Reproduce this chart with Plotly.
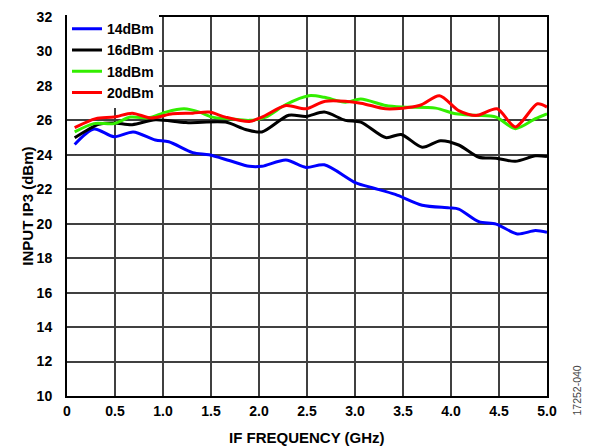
import plotly.graph_objects as go

# IF frequency (GHz), one list per curve
freq_14 = [0.08, 0.28, 0.49, 0.69, 0.92, 1.06, 1.31, 1.48, 1.69, 1.90, 2.03, 2.28, 2.49, 2.68,
           3.01, 3.18, 3.42, 3.70, 3.98, 4.08, 4.29, 4.47, 4.69, 4.88, 5.0]
ip3_14 = [24.6, 25.5, 25.05, 25.33, 24.86, 24.76, 24.13, 24.0, 23.67, 23.33, 23.33, 23.7, 23.27, 23.42,
          22.37, 22.09, 21.7, 21.07, 20.92, 20.85, 20.12, 19.98, 19.41, 19.6, 19.5]

freq_16 = [0.08, 0.33, 0.49, 0.68, 0.92, 1.24, 1.65, 1.86, 2.03, 2.31, 2.49, 2.68, 2.90, 3.06,
           3.32, 3.48, 3.70, 3.89, 4.08, 4.29, 4.47, 4.67, 4.88, 5.0]
ip3_16 = [24.99, 25.77, 25.85, 25.75, 26.04, 25.87, 25.9, 25.47, 25.33, 26.3, 26.23, 26.48, 26.0, 25.9,
          25.0, 25.18, 24.44, 24.82, 24.57, 23.86, 23.8, 23.62, 23.94, 23.9]

freq_18 = [0.08, 0.28, 0.49, 0.66, 0.85, 1.03, 1.22, 1.38, 1.51, 1.69, 1.90, 2.07, 2.28, 2.52,
           2.68, 2.90, 3.06, 3.32, 3.49, 3.84, 4.05, 4.26, 4.47, 4.67, 4.88, 5.0]
ip3_18 = [25.33, 25.81, 25.81, 26.19, 26.15, 26.48, 26.67, 26.48, 26.19, 26.1, 26.0, 26.19, 26.92, 27.43,
          27.34, 27.05, 27.24, 26.86, 26.77, 26.71, 26.38, 26.29, 26.19, 25.52, 26.1, 26.38]

freq_20 = [0.08, 0.30, 0.49, 0.68, 0.87, 1.10, 1.31, 1.48, 1.65, 1.90, 2.03, 2.28, 2.49, 2.69,
           3.06, 3.32, 3.67, 3.88, 4.08, 4.27, 4.48, 4.67, 4.90, 5.0]
ip3_20 = [25.58, 26.1, 26.19, 26.42, 26.14, 26.38, 26.42, 26.48, 26.19, 25.94, 26.19, 26.86, 26.67, 27.11,
          27.0, 26.67, 26.86, 27.43, 26.57, 26.29, 26.67, 25.62, 26.96, 26.77]

x_ticks = [0, 0.5, 1.0, 1.5, 2.0, 2.5, 3.0, 3.5, 4.0, 4.5, 5.0]
x_labels = ["0", "0.5", "1.0", "1.5", "2.0", "2.5", "3.0", "3.5", "4.0", "4.5", "5.0"]
y_ticks = list(range(10, 33, 2))

font = "Arial, Liberation Sans, sans-serif"
bold14 = dict(family=font, size=14, color="black", weight="bold")
bold15 = dict(family=font, size=15, color="black", weight="bold")

series = [
    ("14dBm", freq_14, ip3_14, "#0000ff"),
    ("16dBm", freq_16, ip3_16, "#000000"),
    ("18dBm", freq_18, ip3_18, "#33ee00"),
    ("20dBm", freq_20, ip3_20, "#ff0000"),
]

fig = go.Figure()
for name, xs, ys, color in series:
    fig.add_trace(go.Scatter(x=xs, y=ys, name=name, mode="lines",
                             line=dict(color=color, width=3, shape="spline", smoothing=0.8)))

axis_common = dict(showgrid=True, gridcolor="#404040", gridwidth=1.5,
                   showline=True, linecolor="black", linewidth=2, mirror=True,
                   ticks="", zeroline=False, automargin=False,
                   tickfont=bold14)

fig.update_xaxes(range=[0, 5], tickvals=x_ticks, ticktext=x_labels,
                 ticklabelstandoff=1, **axis_common)
fig.update_yaxes(range=[10, 32], tickvals=y_ticks, ticklabelstandoff=10, **axis_common)

# the page body adds an 8 px offset, so the figure is 8 px smaller each way
fig.update_layout(
    width=590, height=440,
    margin=dict(l=59, r=51, t=5, b=52),
    plot_bgcolor="white", paper_bgcolor="white",
    font=bold14,
    legend=dict(x=0.0, y=1.01, xanchor="left", yanchor="top",
                bgcolor="white", borderwidth=0, itemwidth=30,
                tracegroupgap=0, font=bold14),
    annotations=[
        dict(text="IF FREQUENCY (GHz)", xref="paper", yref="paper", x=0.5, y=-0.109,
             xanchor="center", yanchor="middle", showarrow=False, font=bold15),
        dict(text="INPUT IP3 (dBm)", xref="paper", yref="paper", x=-0.083, y=0.5,
             xanchor="center", yanchor="middle", textangle=-90, showarrow=False, font=bold15),
        dict(text="17252-040", xref="paper", yref="paper",
             x=1.079, y=-0.057, textangle=-90, showarrow=False,
             font=dict(family=font, size=10.5, color="#444444", weight="normal")),
    ],
)

fig.write_html("out.html")
